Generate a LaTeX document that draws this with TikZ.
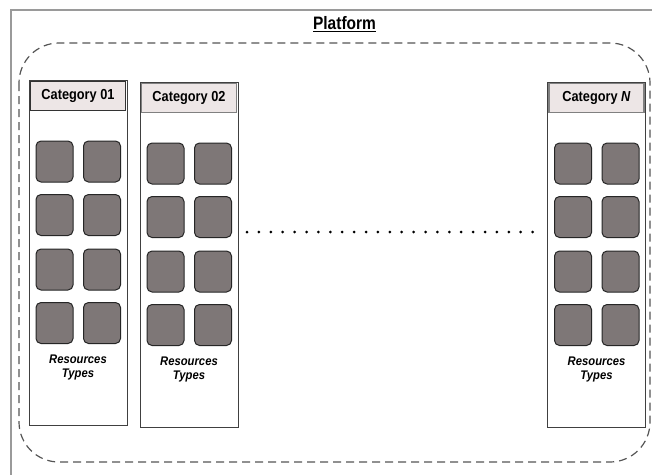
\documentclass[tikz,border=0pt]{standalone}
\usepackage{fontspec}
\setmainfont{Liberation Sans}
\usetikzlibrary{calc}
\definecolor{hdrfill}{HTML}{EDE6E6}
\definecolor{resfill}{HTML}{7E7777}
\definecolor{dashgray}{HTML}{555555}
\definecolor{framegray}{HTML}{9A9A9A}
\newcommand{\narrowtxt}[2]{\scalebox{#1}[1]{#2}}
\tikzset{
  colbox/.style={draw=black!75, line width=0.9pt, fill=white, minimum width=98pt, minimum height=345pt, inner sep=0pt},
  hdrbox/.style={draw=black!55, line width=1.8pt, fill=hdrfill, minimum width=95pt, minimum height=29pt, inner sep=0pt, font=\bfseries\fontsize{14.5}{16}\selectfont},
  resbox/.style={draw=black!85, line width=1pt, fill=resfill, rounded corners=5pt, minimum width=37pt, minimum height=41pt, inner sep=0pt},
  restext/.style={font=\bfseries\itshape\fontsize{12.5}{14.5}\selectfont, align=center, inner sep=0pt},
  platform/.style={draw=dashgray, line width=1.2pt, dash pattern=on 8pt off 5pt, rounded corners=40pt}
}
\begin{document}
\begin{tikzpicture}[x=1pt,y=-1pt]
\useasboundingbox (0,0) rectangle (652,474);
\clip (0,0) rectangle (652,474);
\draw[framegray, line width=1.3pt] (11,10) rectangle (720,520);
\node[font=\bfseries\fontsize{18}{20}\selectfont, inner sep=0pt] (title) at (344.5,24) {\underline{\narrowtxt{0.86}{Platform}}};
\draw[platform] (19,43) rectangle (650,462);
\foreach \nm/\cx/\top/\hd/\hc in {a/78/80/{Category 01}/black!80, b/189/82/{Category 02}/black!50, n/596.5/82/{Category \textit{N}}/black!50} {
  \node[colbox] (col\nm) at (\cx,\top+172.5) {};
  \node[hdrbox, draw=\hc] (hdr\nm) at (\cx,\top+16) {\narrowtxt{0.88}{\hd}};
  \foreach \r/\dy in {1/81.5, 2/135, 3/189.5, 4/243} {
    \node[resbox] (res\nm\r l) at (\cx-23.5,\top+\dy) {};
    \node[resbox] (res\nm\r r) at (\cx+24,\top+\dy) {};
  }
  \node[restext] (txt\nm) at (\cx,\top+287.5) {\narrowtxt{0.9}{Resources}\\\narrowtxt{0.9}{Types}};
}
\foreach \i in {0,...,24} {
  \fill[black] (247+\i*11.9,232) circle (1.5pt);
}
\end{tikzpicture}
\end{document}
